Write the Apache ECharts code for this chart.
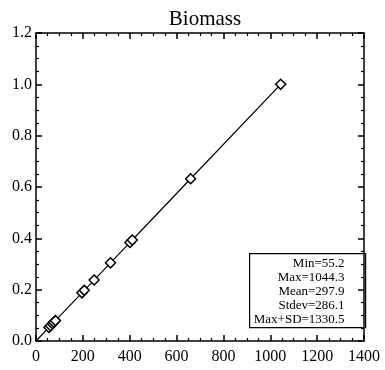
<!DOCTYPE html>
<html>
<head>
<meta charset="utf-8">
<script src="https://cdn.jsdelivr.net/npm/echarts@6/dist/echarts.min.js"></script>
<style>
  html, body { margin: 0; padding: 0; background: #fff; }
  #view { width: 385px; height: 370px; }
</style>
</head>
<body>
<div id="view"></div>
<script>
var biomass = [55.2, 62, 70, 76, 83, 196, 206, 248, 318, 401, 411, 660, 1044.3]
var maxVal = 1044.3
var statLabels = ['Min=55.2', 'Max=1044.3', 'Mean=297.9', 'Stdev=286.1', 'Max+SD=1330.5']

var font = 'Liberation Serif'
var pts = [{ value: [0, 0], symbol: 'none' }]
biomass.forEach(function (v) {
  pts.push([v, v / maxVal])
})

var axisBase = {
  axisLine: { show: true, onZero: false, lineStyle: { color: '#000', width: 1.5 } },
  axisTick: { show: true, inside: true, length: 6, lineStyle: { color: '#000', width: 1.5 } },
  minorTick: { show: true, splitNumber: 4, length: 3, lineStyle: { color: '#000', width: 1.2 } },
  splitLine: { show: false }
}

function mk(extra) {
  return Object.assign({}, JSON.parse(JSON.stringify(axisBase)), extra)
}

var mychart = echarts.init(document.getElementById('view'))
var options = {
  backgroundColor: '#fff',
  animation: false,
  title: {
    text: 'Biomass',
    left: 200, top: 4, textAlign: 'center',
    textStyle: { fontFamily: font, fontSize: 21, fontWeight: 'normal', color: '#000' }
  },
  grid: { left: 36, right: 21, top: 33, bottom: 29 },
  xAxis: [
    mk({ type: 'value', position: 'bottom', min: 0, max: 1400, interval: 200,
      axisLabel: { color: '#000', fontFamily: font, fontSize: 16, margin: 8,
        formatter: function (v) { return String(v) } } }),
    mk({ type: 'value', position: 'top', min: 0, max: 1400, interval: 200,
      axisLabel: { show: false } })
  ],
  yAxis: [
    mk({ type: 'value', position: 'left', min: 0, max: 1.2, interval: 0.2,
      axisLabel: { color: '#000', fontFamily: font, fontSize: 16, margin: 4,
        formatter: function (v) { return v.toFixed(1) } } }),
    mk({ type: 'value', position: 'right', min: 0, max: 1.2, interval: 0.2,
      axisLabel: { show: false } })
  ],
  series: [{
    type: 'line',
    data: pts,
    symbol: 'diamond',
    symbolSize: 10,
    showAllSymbol: true,
    lineStyle: { color: '#000', width: 1.2 },
    itemStyle: { color: '#fff', borderColor: '#000', borderWidth: 1.5 }
  }],
  graphic: [{
    type: 'group',
    left: 249, top: 253,
    children: [{
      type: 'rect',
      shape: { x: 0, y: 0, width: 116, height: 74 },
      style: { fill: '#fff', stroke: '#000', lineWidth: 1.2 }
    }].concat(statLabels.map(function (s, i) {
      return {
        type: 'text',
        x: 95, y: 3 + i * 14.2,
        style: { text: s, align: 'right', fill: '#000', font: '13px "Liberation Serif"' }
      }
    }))
  }]
}
mychart.setOption(options)
</script>
</body>
</html>
